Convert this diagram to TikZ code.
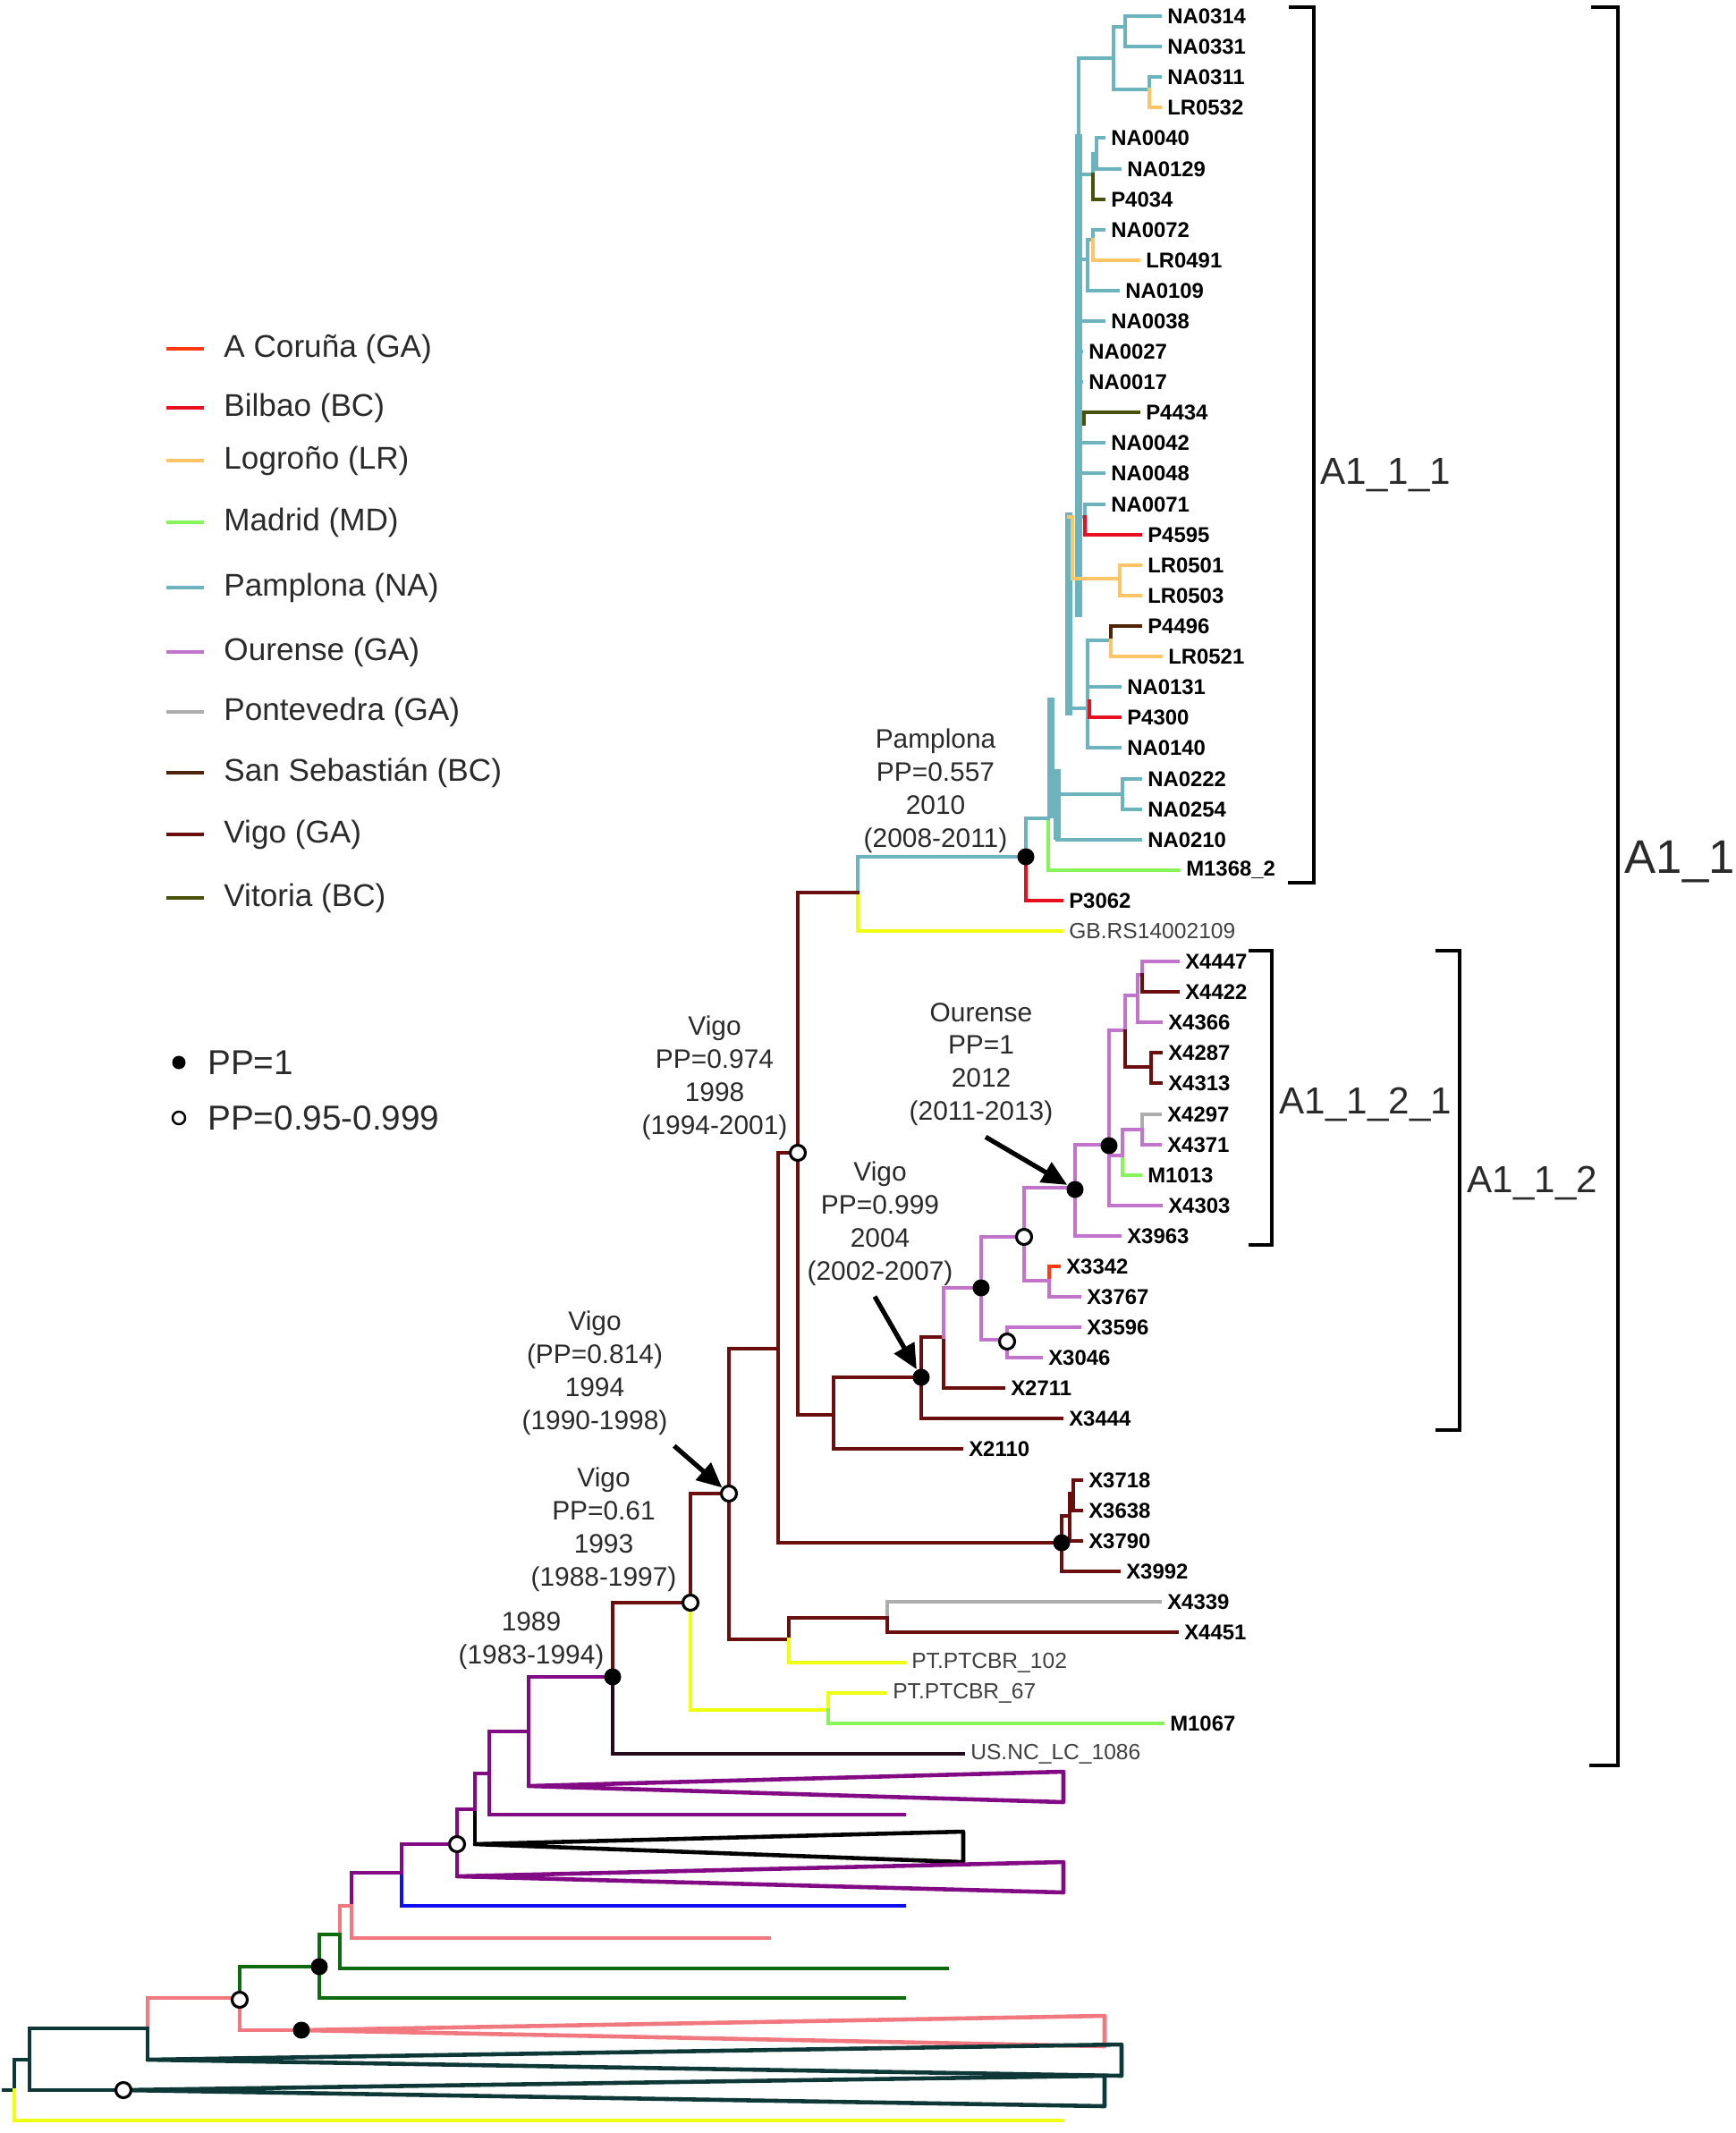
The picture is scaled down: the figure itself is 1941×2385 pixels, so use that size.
\documentclass[tikz,border=0pt]{standalone}
\usepackage{fontspec}
\setmainfont{Liberation Sans}
\usetikzlibrary{arrows.meta}
\definecolor{cCor}{HTML}{FF3A10}
\definecolor{cBil}{HTML}{E8101E}
\definecolor{cLog}{HTML}{FFC466}
\definecolor{cMad}{HTML}{86F55A}
\definecolor{cPam}{HTML}{6CB3BD}
\definecolor{cOur}{HTML}{C274CC}
\definecolor{cPon}{HTML}{ADADAD}
\definecolor{cSeb}{HTML}{4F2406}
\definecolor{cVig}{HTML}{6A0E0E}
\definecolor{cVit}{HTML}{48500A}
\definecolor{cYel}{HTML}{EEFF10}
\definecolor{cPur}{HTML}{820A84}
\definecolor{cBlu}{HTML}{1010EE}
\definecolor{cPnk}{HTML}{F27880}
\definecolor{cGrn}{HTML}{0E6A0E}
\definecolor{cDkt}{HTML}{0E3838}
\definecolor{cUsa}{HTML}{24081E}
\definecolor{txt}{HTML}{2A2A2A}
\tikzset{
  br/.style={line width=1.3pt,line cap=rect},
  bb/.style={line width=2.3pt,cPam},
  tri/.style={line join=round},
  tiplab/.style={anchor=west,inner sep=0.6mm,font=\fontsize{6.8}{8}\selectfont\bfseries,text=black},
  tiplabg/.style={anchor=west,inner sep=0.6mm,font=\fontsize{7}{8}\selectfont,text=black!75},
  pp1/.style={circle,fill=black,inner sep=0pt,minimum size=1.9mm},
  pp95/.style={circle,draw=black,fill=white,line width=0.9pt,inner sep=0pt,minimum size=1.7mm},
  ann/.style={align=center,font=\fontsize{8.5}{10.5}\selectfont,text=txt},
  arr/.style={line width=1.5pt,-{Triangle[length=2.8mm,width=2.5mm]}},
  clade/.style={line width=1.1pt,black},
  cladelab/.style={anchor=west,inner sep=0pt,text=txt},
  lgtext/.style={anchor=west,font=\fontsize{10}{12}\selectfont,text=txt},
}
\begin{document}
\begin{tikzpicture}[x=0.1mm,y=-0.1mm]
\useasboundingbox (0,0) rectangle (1941,2385);

% legend
\foreach \c/\y/\t in {cCor/390/A Coruña (GA), cBil/456/Bilbao (BC), cLog/515/Logroño (LR),
  cMad/584/Madrid (MD), cPam/657/Pamplona (NA), cOur/729/Ourense (GA), cPon/796/Pontevedra (GA),
  cSeb/864/San Sebastián (BC), cVig/933/Vigo (GA), cVit/1004/Vitoria (BC)}{
  \draw[br,\c] (188,\y) -- (226,\y);
  \node[lgtext] (lg\y) at (238,\y) {\t};
}
\node[pp1,minimum size=1.5mm] (lgpp1) at (200,1188) {};
\node[lgtext,font=\fontsize{11}{13}\selectfont] (lgt1) at (220,1188) {PP=1};
\node[pp95,minimum size=1.4mm,line width=0.7pt] (lgpp95) at (200,1250) {};
\node[lgtext,font=\fontsize{11}{13}\selectfont] (lgt95) at (220,1250) {PP=0.95-0.999};

% Pamplona clade
\draw[bb] (1175,780) -- (1175,915);
\draw[bb] (1182,860) -- (1182,939);
\draw[bb] (1195,573) -- (1195,800);
\draw[bb] (1206,150) -- (1206,690);
\draw[br,cPam] (1206,65) -- (1206,150);
\draw[br,cPam] (1206,65) -- (1245,65);
\draw[br,cPam] (1245,30) -- (1245,100);
\draw[br,cPam] (1245,30) -- (1258,30);
\draw[br,cPam] (1258,18) -- (1258,52);
\draw[br,cPam] (1258,18) -- (1297,18) node[tiplab] {NA0314};
\draw[br,cPam] (1258,52) -- (1297,52) node[tiplab] {NA0331};
\draw[br,cPam] (1245,100) -- (1285,100);
\draw[br,cPam] (1285,100) |- (1297,86) node[tiplab] {NA0311};
\draw[br,cLog] (1285,100) |- (1297,120) node[tiplab] {LR0532};
\draw[br,cPam] (1206,195) -- (1222,195) -- (1222,172) -- (1226,172);
\draw[br,cPam] (1226,154) -- (1226,189);
\draw[br,cPam] (1226,154) -- (1234,154) node[tiplab] {NA0040};
\draw[br,cPam] (1226,189) -- (1252,189) node[tiplab] {NA0129};
\draw[br,cVit] (1222,195) |- (1234,223) node[tiplab] {P4034};
\draw[br,cPam] (1206,290) -- (1216,290);
\draw[br,cPam] (1216,268) -- (1216,325);
\draw[br,cPam] (1216,268) -- (1222,268);
\draw[br,cPam] (1222,268) |- (1234,257) node[tiplab] {NA0072};
\draw[br,cLog] (1222,268) |- (1273,291) node[tiplab] {LR0491};
\draw[br,cPam] (1216,325) -- (1250,325) node[tiplab] {NA0109};
\draw[br,cPam] (1206,359) -- (1234,359) node[tiplab] {NA0038};
\draw[br,cPam] (1206,393) -- (1209,393) node[tiplab] {NA0027};
\draw[br,cPam] (1206,427) -- (1209,427) node[tiplab] {NA0017};
\draw[br,cVit] (1212,474) |- (1273,461) node[tiplab] {P4434};
\draw[br,cPam] (1206,495) -- (1234,495) node[tiplab] {NA0042};
\draw[br,cPam] (1206,529) -- (1234,529) node[tiplab] {NA0048};
\draw[br,cPam] (1206,578) -- (1213,578) |- (1234,564) node[tiplab] {NA0071};
\draw[br,cBil] (1213,578) |- (1275,598) node[tiplab] {P4595};
\draw[br,cLog] (1195,578) -- (1199,578) |- (1252,647);
\draw[br,cLog] (1252,632) -- (1252,666);
\draw[br,cLog] (1252,632) -- (1275,632) node[tiplab] {LR0501};
\draw[br,cLog] (1252,666) -- (1275,666) node[tiplab] {LR0503};
\draw[br,cPam] (1195,792) -- (1216,792);
\draw[br,cPam] (1216,716) -- (1216,836);
\draw[br,cPam] (1216,716) -- (1242,716);
\draw[br,cSeb] (1242,716) |- (1275,700) node[tiplab] {P4496};
\draw[br,cLog] (1242,716) |- (1298,734) node[tiplab] {LR0521};
\draw[br,cPam] (1216,768) -- (1252,768) node[tiplab] {NA0131};
\draw[br,cBil] (1218,784) |- (1252,802) node[tiplab] {P4300};
\draw[br,cPam] (1216,836) -- (1252,836) node[tiplab] {NA0140};
\draw[br,cPam] (1182,888) -- (1255,888);
\draw[br,cPam] (1255,871) -- (1255,905);
\draw[br,cPam] (1255,871) -- (1275,871) node[tiplab] {NA0222};
\draw[br,cPam] (1255,905) -- (1275,905) node[tiplab] {NA0254};
\draw[br,cPam] (1182,939) -- (1275,939) node[tiplab] {NA0210};
\draw[br,cMad] (1172,915) |- (1318,973) node[tiplab] {M1368\_2};
\draw[br,cPam] (1147,958) |- (1172,915);
\draw[br,cBil] (1147,958) |- (1187,1007) node[tiplab] {P3062};
\draw[br,cPam] (959,998) |- (1147,958);
\draw[br,cYel] (959,998) |- (1187,1041) node[tiplabg] {GB.RS14002109};
\draw[br,cVig] (892,998) -- (959,998);

% Vigo and Ourense
\draw[br,cVig] (892,998) -- (892,1582) -- (932,1582);
\draw[br,cVig] (870,1289) -- (892,1289);
\draw[br,cVig] (932,1540) -- (932,1620) -- (1075,1620) node[tiplab] {X2110};
\draw[br,cVig] (932,1540) -- (1030,1540);
\draw[br,cVig] (1030,1495) -- (1030,1586) -- (1187,1586) node[tiplab] {X3444};
\draw[br,cVig] (1030,1495) -- (1055,1495) -- (1055,1552) -- (1122,1552) node[tiplab] {X2711};
\draw[br,cOur] (1055,1495) |- (1097,1440);
\draw[br,cOur] (1097,1383) -- (1097,1498);
\draw[br,cOur] (1097,1383) -- (1145,1383);
\draw[br,cOur] (1145,1328) -- (1145,1432);
\draw[br,cOur] (1145,1328) -- (1202,1328);
\draw[br,cOur] (1202,1280) -- (1202,1382) -- (1252,1382) node[tiplab] {X3963};
\draw[br,cOur] (1202,1280) -- (1240,1280);
\draw[br,cOur] (1240,1152) -- (1240,1348) -- (1298,1348) node[tiplab] {X4303};
\draw[br,cOur] (1240,1152) -- (1258,1152);
\draw[br,cOur] (1258,1113) -- (1258,1153);
\draw[br,cVig] (1258,1153) |- (1287,1193);
\draw[br,cVig] (1287,1177) -- (1287,1211);
\draw[br,cVig] (1287,1177) -- (1298,1177) node[tiplab] {X4287};
\draw[br,cVig] (1287,1211) -- (1298,1211) node[tiplab] {X4313};
\draw[br,cOur] (1258,1113) -- (1272,1113);
\draw[br,cOur] (1272,1090) -- (1272,1143) -- (1298,1143) node[tiplab] {X4366};
\draw[br,cOur] (1272,1090) -- (1277,1090);
\draw[br,cOur] (1277,1090) |- (1317,1075) node[tiplab] {X4447};
\draw[br,cVig] (1277,1090) |- (1317,1109) node[tiplab] {X4422};
\draw[br,cOur] (1240,1292) -- (1255,1292);
\draw[br,cOur] (1255,1263) -- (1255,1296);
\draw[br,cMad] (1255,1296) |- (1275,1314) node[tiplab] {M1013};
\draw[br,cOur] (1255,1263) -- (1277,1263);
\draw[br,cPon] (1277,1263) |- (1297,1246) node[tiplab] {X4297};
\draw[br,cOur] (1277,1263) |- (1297,1280) node[tiplab] {X4371};
\draw[br,cOur] (1145,1432) -- (1173,1432);
\draw[br,cCor] (1173,1432) |- (1184,1416) node[tiplab] {X3342};
\draw[br,cOur] (1173,1432) |- (1207,1450) node[tiplab] {X3767};
\draw[br,cOur] (1097,1498) -- (1126,1498);
\draw[br,cOur] (1126,1484) -- (1126,1518);
\draw[br,cOur] (1126,1484) -- (1207,1484) node[tiplab] {X3596};
\draw[br,cOur] (1126,1518) -- (1164,1518) node[tiplab] {X3046};
\draw[br,cVig] (870,1289) -- (870,1725) -- (1187,1725);
\draw[br,cVig] (1187,1695) -- (1187,1757) -- (1251,1757) node[tiplab] {X3992};
\draw[br,cVig] (1187,1695) -- (1196,1695);
\draw[br,cVig] (1196,1670) -- (1196,1723) -- (1209,1723) node[tiplab] {X3790};
\draw[br,cVig] (1196,1670) -- (1200,1670);
\draw[br,cVig] (1200,1655) -- (1200,1689);
\draw[br,cVig] (1200,1655) -- (1209,1655) node[tiplab] {X3718};
\draw[br,cVig] (1200,1689) -- (1209,1689) node[tiplab] {X3638};

% older Vigo nodes
\draw[br,cVig] (815,1508) -- (870,1508);
\draw[br,cVig] (815,1508) -- (815,1833) -- (882,1833);
\draw[br,cVig] (772,1670) -- (815,1670);
\draw[br,cVig] (882,1833) |- (992,1809);
\draw[br,cPon] (992,1809) |- (1297,1791) node[tiplab] {X4339};
\draw[br,cVig] (992,1809) |- (1316,1825) node[tiplab] {X4451};
\draw[br,cYel] (882,1833) |- (1011,1859) node[tiplabg] {PT.PTCBR\_102};
\draw[br,cVig] (772,1670) -- (772,1792);
\draw[br,cYel] (772,1792) |- (926,1912);
\draw[br,cYel] (926,1912) |- (990,1893) node[tiplabg] {PT.PTCBR\_67};
\draw[br,cMad] (926,1912) |- (1300,1927) node[tiplab] {M1067};
\draw[br,cVig] (685,1792) -- (772,1792);
\draw[br,cVig] (685,1792) -- (685,1875);
\draw[br,cUsa] (685,1875) |- (1077,1961) node[tiplabg] {US.NC\_LC\_1086};
\draw[br,cPur] (591,1875) -- (685,1875);

% basal lineages
\draw[br,cPur] (591,1875) -- (591,1997);
\draw[br,cPur,tri] (591,1997) -- (1189,1981) -- (1189,2015) -- cycle;
\draw[br,cPur] (547,1936) -- (591,1936);
\draw[br,cPur] (547,1936) -- (547,2029) -- (1011,2029);
\draw[br,cPur] (531,1983) -- (547,1983);
\draw[br,cPur] (531,1983) -- (531,2025);
\draw[br,black] (531,2025) -- (531,2062);
\draw[br,black,tri] (531,2062) -- (1077,2048) -- (1077,2082) -- cycle;
\draw[br,cPur] (511,2023) -- (531,2023);
\draw[br,cPur] (511,2023) -- (511,2098);
\draw[br,cPur,tri] (511,2098) -- (1189,2082) -- (1189,2116) -- cycle;
\draw[br,cPur] (449,2062) -- (511,2062);
\draw[br,cPur] (449,2062) -- (449,2096);
\draw[br,cBlu] (449,2096) |- (1011,2131);
\draw[br,cPur] (393,2094) -- (449,2094);
\draw[br,cPur] (393,2094) -- (393,2131);
\draw[br,cPnk] (393,2131) |- (860,2167);
\draw[br,cPnk] (380,2131) -- (393,2131);
\draw[br,cPnk] (380,2131) -- (380,2163);
\draw[br,cGrn] (380,2163) |- (1059,2201);
\draw[br,cGrn] (357,2163) -- (380,2163);
\draw[br,cGrn] (357,2163) |- (1011,2234);
\draw[br,cGrn] (268,2199) -- (357,2199);
\draw[br,cGrn] (268,2199) -- (268,2234);
\draw[br,cPnk] (268,2234) |- (337,2270);
\draw[br,cPnk,tri] (337,2270) -- (1235,2254) -- (1235,2288) -- cycle;
\draw[br,cPnk] (165,2234) -- (268,2234);
\draw[br,cPnk] (165,2234) -- (165,2268);
\draw[br,cDkt] (165,2268) -- (165,2303);
\draw[br,cDkt,tri] (165,2303) -- (1254,2286) -- (1254,2321) -- cycle;
\draw[br,cDkt] (33,2268) -- (165,2268);
\draw[br,cDkt] (33,2268) -- (33,2337) -- (138,2337);
\draw[br,cDkt,tri] (138,2337) -- (1235,2321) -- (1235,2355) -- cycle;
\draw[br,cDkt] (16,2303) -- (33,2303);
\draw[br,cDkt] (16,2303) -- (16,2337);
\draw[br,cDkt] (4,2337) -- (16,2337);
\draw[br,cYel] (16,2337) |- (1187,2371);

% posterior support
\node[pp1] (ppPamp) at (1147,958) {};
\node[pp1] (ppOur) at (1202,1330) {};
\node[pp1] (ppOura) at (1240,1281) {};
\node[pp1] (ppOurb) at (1097,1440) {};
\node[pp95] (ppOurc) at (1145,1383) {};
\node[pp95] (ppOurd) at (1126,1500) {};
\node[pp1] (ppVa) at (1030,1540) {};
\node[pp1] (ppX37) at (1187,1725) {};
\node[pp95] (ppVb) at (892,1289) {};
\node[pp95] (ppVc) at (815,1670) {};
\node[pp95] (ppVd) at (772,1792) {};
\node[pp1] (ppRoot) at (685,1875) {};
\node[pp95] (ppB1) at (511,2062) {};
\node[pp1] (ppB2) at (357,2199) {};
\node[pp95] (ppB3) at (268,2236) {};
\node[pp1] (ppB4) at (337,2270) {};
\node[pp95] (ppB5) at (138,2337) {};

% node ages
\node[ann] (lbPamp) at (1046,884) {Pamplona\\PP=0.557\\2010\\(2008-2011)};
\node[ann] (lbOur) at (1097,1190) {Ourense\\PP=1\\2012\\(2011-2013)};
\node[ann] (lbVa) at (984,1368) {Vigo\\PP=0.999\\2004\\(2002-2007)};
\node[ann] (lbVb) at (799,1205) {Vigo\\PP=0.974\\1998\\(1994-2001)};
\node[ann] (lbVc) at (665,1535) {Vigo\\(PP=0.814)\\1994\\(1990-1998)};
\node[ann] (lbVd) at (675,1710) {Vigo\\PP=0.61\\1993\\(1988-1997)};
\node[ann] (lbRoot) at (594,1835) {1989\\(1983-1994)};
\draw[arr] ([xshift=0.5mm]lbOur.south) -- (ppOur);
\draw[arr] ([xshift=-0.6mm]lbVa.south) -- (ppVa);
\draw[arr] ([xshift=-0.5mm]lbVc.south east) -- (ppVc);

% clades
\draw[clade] (1441,8) -- (1469,8) -- (1469,987) -- (1440,987);
\node[cladelab,font=\fontsize{12}{14}\selectfont] (cl111) at (1476,531) {A1\_1\_1};
\draw[clade] (1779,8) -- (1809,8) -- (1809,1974) -- (1777,1974);
\node[cladelab,font=\fontsize{15}{17}\selectfont] (cl11) at (1816,964) {A1\_1};
\draw[clade] (1605,1063) -- (1632,1063) -- (1632,1599) -- (1605,1599);
\node[cladelab,font=\fontsize{12}{14}\selectfont] (cl112) at (1640,1323) {A1\_1\_2};
\draw[clade] (1396,1063) -- (1422,1063) -- (1422,1392) -- (1396,1392);
\node[cladelab,font=\fontsize{12}{14}\selectfont] (cl1121) at (1430,1235) {A1\_1\_2\_1};
\end{tikzpicture}
\end{document}
